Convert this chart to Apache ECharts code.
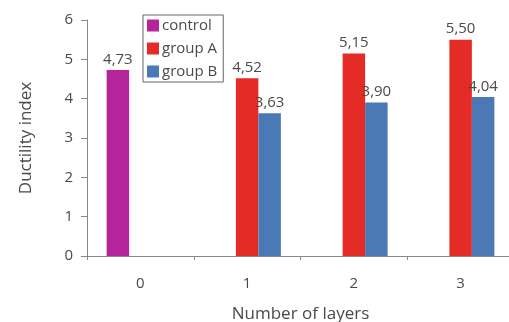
<!DOCTYPE html>
<html><head><meta charset="utf-8">
<script src="https://cdn.jsdelivr.net/npm/echarts@6/dist/echarts.min.js"></script>
<style>html,body{margin:0;padding:0;background:#fff}#c{width:509px;height:322px}</style>
</head><body><div id="c"></div>
<script>
const categories = ['0','1','2','3'];
const controlValues = [4.73, null, null, null];
const groupAValues = [null, 4.52, 5.15, 5.50];
const groupBValues = [null, 3.63, 3.90, 4.04];
const yTicks = [0,1,2,3,4,5,6];

const FONT = '"Open Sans", sans-serif';
const TXT = '#4a4a4a';
const fmt = p => p.value == null ? '' : p.value.toFixed(2).replace('.', ',');
const lbl = {show:true, position:'top', distance:3, formatter:fmt, color:TXT, fontSize:15, fontFamily:FONT};

const chart = echarts.init(document.getElementById('c'), null, {renderer:'canvas'});
chart.setOption({
  animation:false,
  textStyle:{fontFamily:FONT},
  grid:{left:87, right:-5, top:20, bottom:66, outerBoundsMode:'none', containLabel:false},
  legend:{
    orient:'vertical', left:143, top:15,
    itemWidth:12, itemHeight:12, itemGap:8,
    padding:[3,6,3,4], borderColor:'#666', borderWidth:1,
    textStyle:{color:TXT, fontSize:15, fontFamily:FONT, padding:[0,0,0,-2]},
    icon:'rect',
    data:['control','group A','group B']
  },
  xAxis:{
    type:'category', data:categories,
    axisLine:{lineStyle:{color:'#888', width:1}},
    axisTick:{show:true, length:4, lineStyle:{color:'#888'}},
    axisLabel:{color:TXT, fontSize:15, margin:20, fontFamily:FONT},
    name:'Number of layers', nameLocation:'middle', nameGap:50,
    nameTextStyle:{color:TXT, fontSize:17, fontFamily:FONT}
  },
  yAxis:{
    type:'value', min:0, max:6, interval:1,
    axisLine:{show:true, lineStyle:{color:'#888', width:1}},
    axisTick:{show:true, length:6, lineStyle:{color:'#888'}},
    splitLine:{show:false},
    axisLabel:{color:TXT, fontSize:15, margin:14, fontFamily:FONT,
      formatter:v => yTicks.includes(v) ? String(v) : ''},
    name:'Ductility index', nameLocation:'middle', nameGap:52,
    nameTextStyle:{color:TXT, fontSize:17, fontFamily:FONT}
  },
  series:[
    {name:'control', type:'bar', data:controlValues, barWidth:22.5, barGap:'0%', itemStyle:{color:'#b5249a'}, label:lbl},
    {name:'group A', type:'bar', data:groupAValues, barWidth:22.5, barGap:'0%', itemStyle:{color:'#e52b26'}, label:lbl},
    {name:'group B', type:'bar', data:groupBValues, barWidth:22.5, barGap:'0%', itemStyle:{color:'#4a79b6'}, label:lbl}
  ]
});
</script></body></html>
